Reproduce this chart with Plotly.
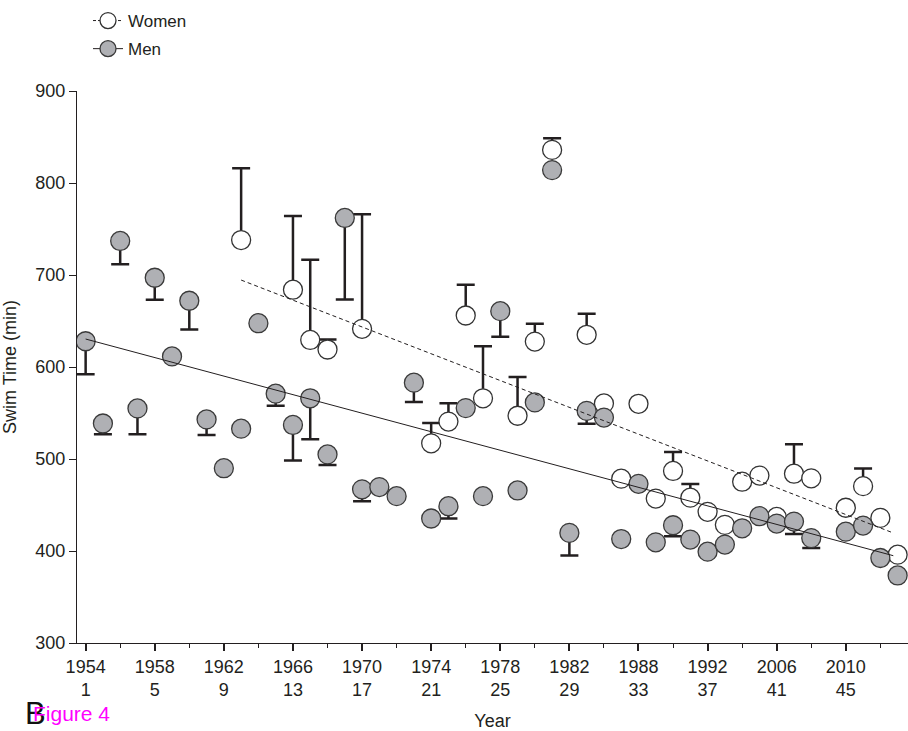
import plotly.graph_objects as go

# ---------------- data ----------------
tick_idx = [1, 5, 9, 13, 17, 21, 25, 29, 33, 37, 41, 45]
tick_years = ["1954", "1958", "1962", "1966", "1970", "1974",
              "1978", "1982", "1988", "1992", "2006", "2010"]

men_idx = list(range(1, 44)) + [45, 46, 47, 48]
men_time = [628, 538.6, 737, 555, 697, 611.5, 672, 543, 490, 533,
            647.6, 571, 537, 566, 505, 762, 467, 469.5, 459.6, 583,
            435.3, 448.7, 555.3, 459.6, 660.7, 465.8, 561.5, 814, 419.7, 552.3,
            545, 413, 473, 409.4, 428, 412.4, 399.3, 407, 424.7, 437.8,
            429.8, 432, 414, 421, 427.6, 392.4, 373.4]
men_low = [592, 527, 711.6, 527, 673, None, 640.7, 526, None, None,
           None, 558, 498.5, 521.5, 493.4, 673.4, 454, None, None, 562,
           None, 435.3, None, None, 633, None, None, None, 395.2, 538.2,
           None, None, None, None, 416, None, None, None, None, None,
           None, 418.6, 403.3, None, None, None, None]

women_idx = [10, 13, 14, 15, 17, 21, 22, 23, 24, 26, 27, 28, 30, 31, 32,
             33, 34, 35, 36, 37, 38, 39, 40, 41, 42, 43, 45, 46, 47, 48]
women_time = [738, 684, 629.4, 619, 641.5, 517, 540.7, 656, 566, 547,
              627.6, 836, 635, 560.4, 478.6, 560, 457, 487, 458, 442.6,
              428.4, 475.3, 482, 437, 484, 479, 447, 470.5, 436, 396]
women_high = [816, 764, 716.7, 629.8, 766, 539, 560.7, 689.4, 622.6, 589,
              647, 848.7, 657.8, None, None, None, None, 507.6, 472.7, None,
              None, None, None, None, 516, None, None, 489.8, None, None]

men_trend_idx = [1, 47.75]
men_trend_time = [630.4, 394.9]
women_trend_idx = [10, 47.75]
women_trend_time = [694.5, 419.6]

# ---------------- style ----------------
INK = "#231f20"
GRAY = "#afb0b4"
FONT = "Arial, Liberation Sans, sans-serif"

W, H = 908, 731
L, R, T, B = 77, 0, 91, 88
pw, ph = W - L - R, H - T - B

def px_x(p):
    return (p - L) / pw

def px_y(p):
    return (H - B - p) / ph

men_minus = [v - lo if lo is not None else 0 for v, lo in zip(men_time, men_low)]
women_plus = [hi - v if hi is not None else 0 for v, hi in zip(women_time, women_high)]

fig = go.Figure()

fig.add_trace(go.Scatter(
    x=women_idx, y=women_time, mode="markers", showlegend=False,
    marker=dict(size=19, color="white", line=dict(color="#333333", width=1.3)),
    error_y=dict(type="data", symmetric=False, array=women_plus,
                 arrayminus=[0] * len(women_plus), color=INK, thickness=2.5, width=9),
))
fig.add_trace(go.Scatter(
    x=men_idx, y=men_time, mode="markers", showlegend=False,
    marker=dict(size=19, color=GRAY, line=dict(color="#3a3a3a", width=1.3)),
    error_y=dict(type="data", symmetric=False, array=[0] * len(men_minus),
                 arrayminus=men_minus, color=INK, thickness=2.5, width=9),
))
fig.add_trace(go.Scatter(
    x=women_trend_idx, y=women_trend_time, mode="lines", showlegend=False,
    line=dict(color=INK, width=1, dash="4px,3px"),
))
fig.add_trace(go.Scatter(
    x=men_trend_idx, y=men_trend_time, mode="lines", showlegend=False,
    line=dict(color=INK, width=1),
))
# legend entries
fig.add_trace(go.Scatter(
    x=[None], y=[None], mode="lines+markers", name="Women", legendgroup="w",
    line=dict(color=INK, width=1, dash="3px,2px"),
    marker=dict(size=19, color="white", line=dict(color="#333333", width=1.3)),
))
fig.add_trace(go.Scatter(
    x=[None], y=[None], mode="lines+markers", name="Men", legendgroup="m",
    line=dict(color=INK, width=1),
    marker=dict(size=19, color=GRAY, line=dict(color="#3a3a3a", width=1.3)),
))

fig.update_layout(
    width=W, height=H,
    margin=dict(l=L, r=R, t=T, b=B, autoexpand=False),
    paper_bgcolor="white", plot_bgcolor="white",
    font=dict(family=FONT, size=18, color=INK),
    showlegend=True,
    legend=dict(x=px_x(88), y=px_y(3), xanchor="left", yanchor="top",
                bgcolor="rgba(0,0,0,0)", font=dict(size=17, color=INK),
                itemsizing="trace", tracegroupgap=3),
    xaxis=dict(
        range=[0.5, 48.6], showgrid=False, zeroline=False,
        showline=True, linecolor=INK, linewidth=1,
        tickmode="array", tickvals=tick_idx,
        ticktext=[f"{y}<br>{i}" for y, i in zip(tick_years, tick_idx)],
        ticks="outside", ticklen=7, tickwidth=2, tickcolor=INK,
        tickfont=dict(size=18),
        minor=dict(tickmode="linear", tick0=1, dtick=2, ticks="outside",
                   ticklen=4, tickwidth=1, tickcolor=INK),
        title=dict(text="Year", font=dict(size=18), standoff=15),
        automargin=False,
    ),
    yaxis=dict(
        range=[300, 900], showgrid=False, zeroline=False,
        showline=True, linecolor=INK, linewidth=1,
        tickmode="array", tickvals=[300, 400, 500, 600, 700, 800, 900],
        ticks="outside", ticklen=7, tickwidth=1, tickcolor=INK,
        tickfont=dict(size=18),
        title=dict(text="Swim Time (min)", font=dict(size=18), standoff=14),
        automargin=False,
    ),
    annotations=[
        dict(text="B", x=px_x(23), y=px_y(733), xref="paper", yref="paper",
             xanchor="left", yanchor="bottom", showarrow=False,
             font=dict(size=31, color="#111111", family=FONT)),
        dict(text="Figure 4", x=px_x(31), y=px_y(727), xref="paper", yref="paper",
             xanchor="left", yanchor="bottom", showarrow=False,
             font=dict(size=21, color="#ff00ff", family=FONT)),
    ],
)

fig.write_html("out.html")
